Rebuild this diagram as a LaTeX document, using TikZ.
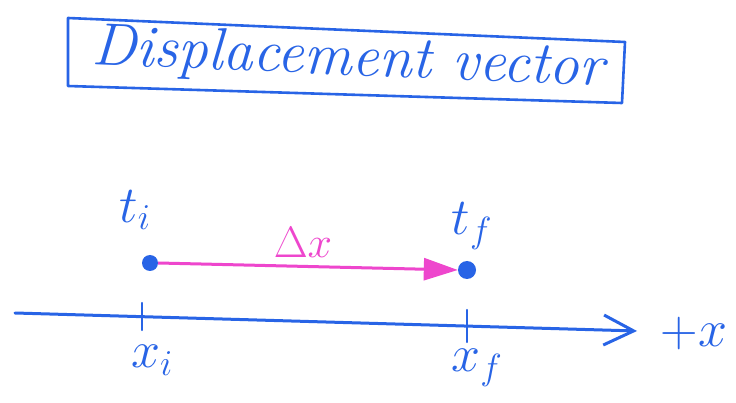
\RequirePackage{fix-cm}
\documentclass[tikz,border=0pt]{standalone}
\usetikzlibrary{arrows.meta}
\definecolor{inkblue}{RGB}{40,100,230}
\definecolor{inkmag}{RGB}{238,70,205}
\begin{document}
\begin{tikzpicture}[x=1pt,y=-1pt,
  ink/.style={draw=inkblue,line width=3pt,line cap=round,line join=round},
  dotnode/.style={circle,fill=inkblue,inner sep=0pt,minimum size=16pt},
  lbl/.style={text=inkblue,font=\fontsize{52}{60}\selectfont,inner sep=0pt},
]
\useasboundingbox (0,0) rectangle (736,403);
\fill[white] (0,0) rectangle (736,403);
% title box
\coordinate (b1) at (68,18);
\coordinate (b2) at (625,42);
\coordinate (b3) at (622,103);
\coordinate (b4) at (68,86);
\draw[ink,line width=2.6pt] (b1) -- (b2) -- (b3) -- (b4) -- cycle;
\node[text=inkblue,rotate=-2.4,inner sep=0pt,font=\fontsize{60}{70}\selectfont\itshape] (title) at (348,60) {Displacement vector};
% axis
\coordinate (axL) at (15,313);
\coordinate (axR) at (637,331);
\draw[ink,-{Straight Barb[length=30pt,width=30pt,line width=3pt]}] (axL) -- (axR);
\node[lbl] (plusx) at (694,334) {$+x$};
% ticks
\coordinate (tiT) at (142,303);
\coordinate (tiB) at (142,330);
\coordinate (tfT) at (467,310);
\coordinate (tfB) at (467,342);
\draw[ink,line width=2.4pt] (tiT) -- (tiB);
\draw[ink,line width=2.4pt] (tfT) -- (tfB);
\node[lbl] (xi) at (152,360) {$x_i$};
\node[lbl] (xf) at (477,368) {$x_f$};
% dots
\node[dotnode] (tidot) at (150,263) {};
\node[dotnode,minimum width=14pt,minimum height=18pt] (tfdot) at (467,270) {};
\node[lbl] (tilbl) at (135,210) {$t_i$};
\node[lbl] (tflbl) at (472,226) {$t_f$};
% displacement arrow
\draw[draw=inkmag,line width=3pt,-{Triangle[length=34pt,width=22pt]}] (tidot.east) -- (tfdot.west);
\node[text=inkmag,font=\fontsize{44}{50}\selectfont,inner sep=0pt] (dx) at (303,242) {$\Delta x$};
\end{tikzpicture}
\end{document}
